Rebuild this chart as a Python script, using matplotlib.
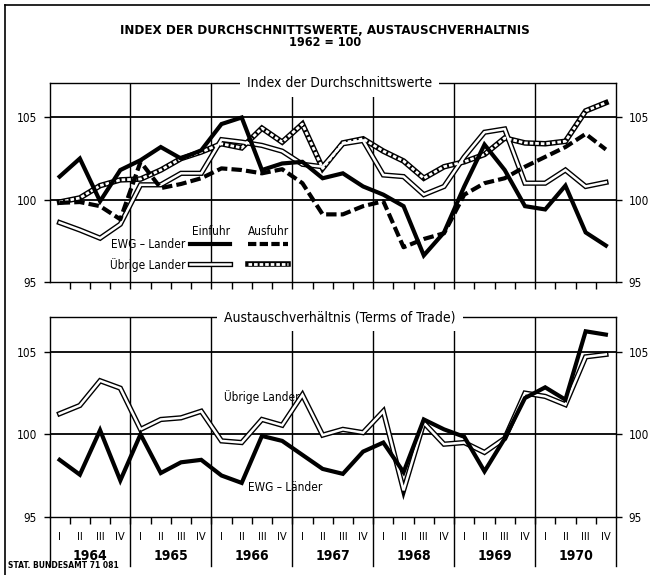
import matplotlib
matplotlib.use('Agg')
import matplotlib.pyplot as plt
from matplotlib.lines import Line2D
import numpy as np

# ---------------- data (quarterly, 1964 I ... 1970 IV) ----------------
years = ['1964', '1965', '1966', '1967', '1968', '1969', '1970']
quarter_labels = ['I', 'II', 'III', 'IV']

# Index der Durchschnittswerte
ewg_einfuhr = [101.4, 102.5, 99.9, 101.8, 102.4, 103.2, 102.5, 103.0,
               104.6, 105.0, 101.8, 102.2, 102.3, 101.3, 101.6, 100.8,
               100.3, 99.6, 96.6, 98.0, 100.8, 103.35, 101.8, 99.6,
               99.4, 100.85, 98.0, 97.2]
ewg_ausfuhr = [99.8, 99.85, 99.6, 98.8, 102.3, 100.7, 100.95, 101.3,
               101.9, 101.8, 101.6, 101.85, 101.0, 99.1, 99.1, 99.6,
               99.9, 97.1, 97.6, 97.95, 100.3, 101.0, 101.3, 102.0,
               102.6, 103.2, 104.0, 103.05]
uebrige_einfuhr = [98.6, 98.15, 97.65, 98.5, 100.9, 100.9, 101.6, 101.6,
                   103.65, 103.5, 103.3, 102.95, 102.15, 102.0, 103.4, 103.6,
                   101.5, 101.4, 100.3, 100.8, 102.6, 104.1, 104.3, 101.0,
                   101.0, 101.8, 100.8, 101.05]
uebrige_ausfuhr = [99.85, 100.1, 100.85, 101.2, 101.25, 101.8, 102.5, 102.9,
                   103.4, 103.15, 104.35, 103.5, 104.6, 101.9, 103.45, 103.7,
                   102.95, 102.35, 101.3, 102.0, 102.3, 102.75, 103.75, 103.45,
                   103.4, 103.55, 105.4, 105.9]

# Austauschverhaeltnis (Terms of Trade)
tot_ewg = [98.45, 97.55, 100.25, 97.2, 100.0, 97.65, 98.3, 98.45,
           97.5, 97.05, 99.9, 99.6, 98.75, 97.9, 97.6, 98.95,
           99.5, 97.7, 100.9, 100.3, 99.85, 97.75, 99.75, 102.2,
           102.85, 102.1, 106.25, 106.05]
tot_uebrige = [101.25, 101.75, 103.25, 102.8, 100.3, 100.9, 101.0, 101.4,
               99.6, 99.5, 100.9, 100.55, 102.4, 99.95, 100.3, 100.1,
               101.4, 96.6, 100.7, 99.4, 99.5, 98.9, 99.75, 102.5,
               102.3, 101.8, 104.7, 104.85]

# ---------------- figure ----------------
plt.rcParams['font.family'] = ['DejaVu Sans']
plt.rcParams['font.stretch'] = 'condensed'
W, H = 650, 575
fig = plt.figure(figsize=(6.5, 5.75), dpi=100)
fig.patch.set_facecolor('white')


def rect(l, t, r, b):
    return [l / W, 1 - b / H, (r - l) / W, (b - t) / H]


ax1 = fig.add_axes(rect(49.5, 83, 616, 281.7))
ax2 = fig.add_axes(rect(49.5, 317.3, 616, 516.7))

n = len(ewg_einfuhr)
x = np.arange(n) + 0.5


def style_axis(ax, title):
    ax.set_xlim(0, n)
    ax.set_ylim(95, 107.1)
    for s in ax.spines.values():
        s.set_linewidth(1.0)
        s.set_color('black')
    ax.set_yticks([95, 100, 105])
    ax.set_yticklabels(['95', '100', '105'])
    ax.tick_params(axis='y', which='both', left=True, right=True,
                   labelleft=True, labelright=True, direction='out',
                   length=4, width=1.0, labelsize=8.5, pad=5)
    ax.set_xticks([])
    ax.set_xticks(np.arange(1, n), minor=True)
    ax.tick_params(axis='x', which='minor', direction='out', length=5,
                   width=1.0, bottom=True, top=False)
    for yv in (100, 105):
        ax.axhline(yv, color='black', lw=1.3, zorder=1)
    for k in range(1, len(years)):
        ax.axvline(4 * k, color='black', lw=1.0, zorder=1)
    ax.text(n / 2 + 0.35, 1.0, title, transform=ax.get_xaxis_transform(),
            ha='center', va='center', fontsize=10,
            bbox=dict(facecolor='white', edgecolor='none', pad=5), zorder=10)


def plain_double(ax, y):
    ax.plot(x, y, color='black', lw=3.8, solid_joinstyle='miter', zorder=3)
    ax.plot(x, y, color='white', lw=1.8, solid_joinstyle='miter', zorder=3.1)


def striped_double(ax, y):
    ax.plot(x, y, color='black', lw=4.0, solid_joinstyle='miter', zorder=3)
    ax.plot(x, y, color='white', lw=2.0, dashes=(1.3, 0.7), zorder=3.1)


# ---- top panel ----
style_axis(ax1, 'Index der Durchschnittswerte')
plain_double(ax1, uebrige_einfuhr)
striped_double(ax1, uebrige_ausfuhr)
ax1.plot(x, ewg_ausfuhr, color='black', lw=3.0, dashes=(2.5, 1.0), zorder=4)
ax1.plot(x, ewg_einfuhr, color='black', lw=3.0, solid_joinstyle='miter', zorder=5)

# legend (keys drawn in axes fraction)
tA = ax1.transAxes
ax1.text(0.285, 0.255, 'Einfuhr', transform=tA, ha='center', va='center', fontsize=8.5)
ax1.text(0.386, 0.255, 'Ausfuhr', transform=tA, ha='center', va='center', fontsize=8.5)
ax1.text(0.240, 0.185, 'EWG \u2013 Lander', transform=tA, ha='right', va='center', fontsize=8.5)
ax1.text(0.240, 0.083, '\u00dcbrige Lander', transform=tA, ha='right', va='center', fontsize=8.5)
kx1 = [0.248, 0.319]
kx2 = [0.350, 0.421]
ax1.add_line(Line2D(kx1, [0.19, 0.19], transform=tA, color='black', lw=3.0))
ax1.add_line(Line2D(kx2, [0.19, 0.19], transform=tA, color='black', lw=3.0, dashes=(2.0, 0.8)))
ax1.add_line(Line2D(kx1, [0.087, 0.087], transform=tA, color='black', lw=3.8))
ax1.add_line(Line2D(kx1, [0.087, 0.087], transform=tA, color='white', lw=1.8))
ax1.add_line(Line2D(kx2, [0.087, 0.087], transform=tA, color='black', lw=4.0))
ax1.add_line(Line2D(kx2, [0.087, 0.087], transform=tA, color='white', lw=2.0, dashes=(1.3, 0.7)))

# ---- bottom panel ----
style_axis(ax2, 'Austauschverh\u00e4ltnis (Terms of Trade)')
plain_double(ax2, tot_uebrige)
ax2.plot(x, tot_ewg, color='black', lw=3.0, solid_joinstyle='miter', zorder=5)
ax2.text(0.308, 0.6, '\u00dcbrige Lander', transform=ax2.transAxes, ha='left',
         va='center', fontsize=8.5)
ax2.text(0.35, 0.147, 'EWG \u2013 L\u00e4nder', transform=ax2.transAxes, ha='left',
         va='center', fontsize=8.5)

# quarter / year labels under the bottom panel
xt = ax2.get_xaxis_transform()
for k, yr in enumerate(years):
    for q, ql in enumerate(quarter_labels):
        ax2.text(4 * k + q + 0.5, -0.103, ql, transform=xt, ha='center',
                 va='center', fontsize=8)
    ax2.text(4 * k + 2, -0.197, yr, transform=xt, ha='center', va='center',
             fontsize=10, fontweight='bold')
for k in range(len(years) + 1):
    ax2.add_line(Line2D([4 * k, 4 * k], [0, -0.245], transform=xt,
                        color='black', lw=1.0, clip_on=False))

# title
fig.text(0.5, 1 - 31 / H, 'INDEX DER DURCHSCHNITTSWERTE, AUSTAUSCHVERHALTNIS',
         ha='center', va='center', fontsize=9.5, fontweight='bold')
fig.text(0.5, 1 - 43 / H, '1962 = 100', ha='center', va='center',
         fontsize=9, fontweight='bold')
fig.text(8 / W, 1 - 566 / H, 'STAT. BUNDESAMT 71 081', ha='left', va='center',
         fontsize=6, fontweight='bold')

# outer frame
fig.add_artist(Line2D([5 / W, 5 / W], [0, 1 - 5 / H], transform=fig.transFigure,
                      color='black', lw=1.2))
fig.add_artist(Line2D([5 / W, 1], [1 - 5 / H, 1 - 5 / H], transform=fig.transFigure,
                      color='black', lw=1.2))

fig.savefig('out.png', dpi=100, facecolor='white')
